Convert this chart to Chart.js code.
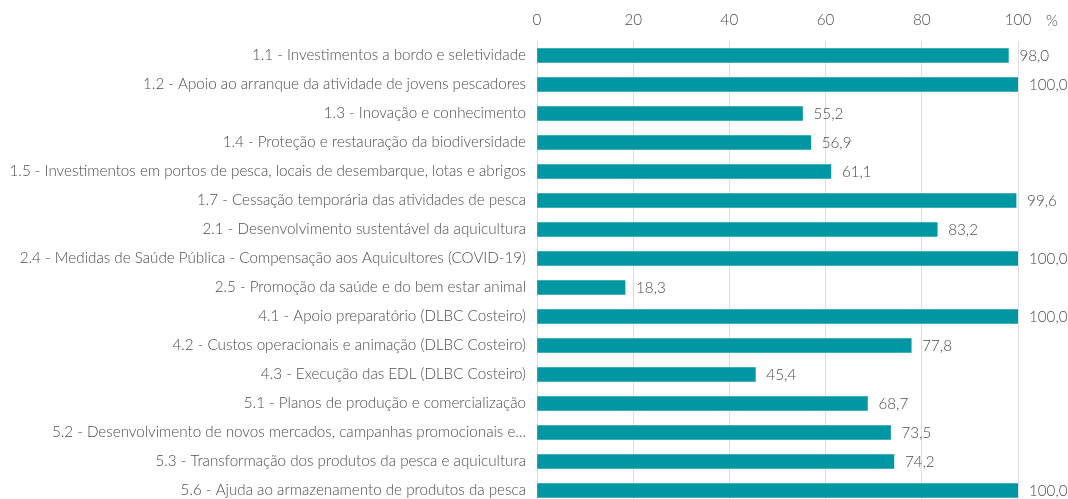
<!DOCTYPE html>
<html lang="pt">
<head>
<meta charset="utf-8">
<title>Taxa de execução por medida</title>
<script src="https://cdn.jsdelivr.net/npm/chart.js@4/dist/chart.umd.min.js"></script>
<style>
    html, body { margin: 0; padding: 0; background: #fff; overflow: hidden; }
    #wrap { width: 1068px; height: 505px; }
</style>
</head>
<body>
<div id="wrap"><canvas id="execChart" width="1068" height="505"></canvas></div>
<script>
// Medidas e taxa de execução (%)
const medidas = [
    '1.1 - Investimentos a bordo e seletividade',
    '1.2 - Apoio ao arranque da atividade de jovens pescadores',
    '1.3 - Inovação e conhecimento',
    '1.4 - Proteção e restauração da biodiversidade',
    '1.5 - Investimentos em portos de pesca, locais de desembarque, lotas e abrigos',
    '1.7 - Cessação temporária das atividades de pesca',
    '2.1 - Desenvolvimento sustentável da aquicultura',
    '2.4 - Medidas de Saúde Pública - Compensação aos Aquicultores (COVID-19)',
    '2.5 - Promoção da saúde e do bem estar animal',
    '4.1 - Apoio preparatório (DLBC Costeiro)',
    '4.2 - Custos operacionais e animação (DLBC Costeiro)',
    '4.3 - Execução das EDL (DLBC Costeiro)',
    '5.1 - Planos de produção e comercialização',
    '5.2 - Desenvolvimento de novos mercados, campanhas promocionais e...',
    '5.3 - Transformação dos produtos da pesca e aquicultura',
    '5.6 - Ajuda ao armazenamento de produtos da pesca'
];
const execucao = [98.0, 100.0, 55.2, 56.9, 61.1, 99.6, 83.2, 100.0, 18.3, 100.0, 77.8, 45.4, 68.7, 73.5, 74.2, 100.0];
const xTicks = [0, 20, 40, 60, 80, 100];

const TEXT = '#4d4d4d';
const FONT = { family: 'Lato, "Open Sans", sans-serif', size: 15.2, weight: '300' };

// escreve o valor à direita de cada barra e o símbolo % no eixo
const valueLabels = {
    id: 'valueLabels',
    afterDatasetsDraw(chart) {
        const ctx = chart.ctx;
        const meta = chart.getDatasetMeta(0);
        ctx.save();
        ctx.font = `${FONT.weight} ${FONT.size}px ${FONT.family}`;
        ctx.fillStyle = TEXT;
        ctx.textAlign = 'left';
        ctx.textBaseline = 'middle';
        meta.data.forEach((bar, i) => {
            const txt = execucao[i].toFixed(1).replace('.', ',');
            ctx.fillText(txt, bar.x + 11, bar.y + 1);
        });
        const xs = chart.scales.x;
        ctx.textAlign = 'center';
        ctx.fillText('%', xs.getPixelForValue(100) + 34, 21);
        ctx.restore();
    }
};

new Chart(document.getElementById('execChart'), {
    type: 'bar',
    data: {
        labels: medidas,
        datasets: [{
            data: execucao,
            backgroundColor: '#0097a2',
            borderWidth: 0,
            barThickness: 14
        }]
    },
    options: {
        indexAxis: 'y',
        responsive: false,
        animation: false,
        layout: { padding: { left: 0, right: 50, top: 0, bottom: 0 } },
        plugins: {
            legend: { display: false },
            tooltip: { enabled: false }
        },
        scales: {
            x: {
                position: 'top',
                min: 0,
                max: 100,
                afterBuildTicks(scale) {
                    scale.ticks = xTicks.map(v => ({ value: v }));
                },
                afterFit(scale) { scale.height = 41; },
                grid: { color: '#dddddd', lineWidth: 1, drawTicks: false },
                border: { display: false },
                ticks: { color: TEXT, font: FONT, padding: 12 }
            },
            y: {
                afterFit(scale) {
                    scale.width = 537;
                    scale.paddingTop = 0;
                    scale.paddingBottom = 0;
                },
                grid: { display: false, drawTicks: false },
                border: { display: false },
                ticks: { color: TEXT, font: FONT, padding: 11, autoSkip: false }
            }
        }
    },
    plugins: [valueLabels]
});
</script>
</body>
</html>
